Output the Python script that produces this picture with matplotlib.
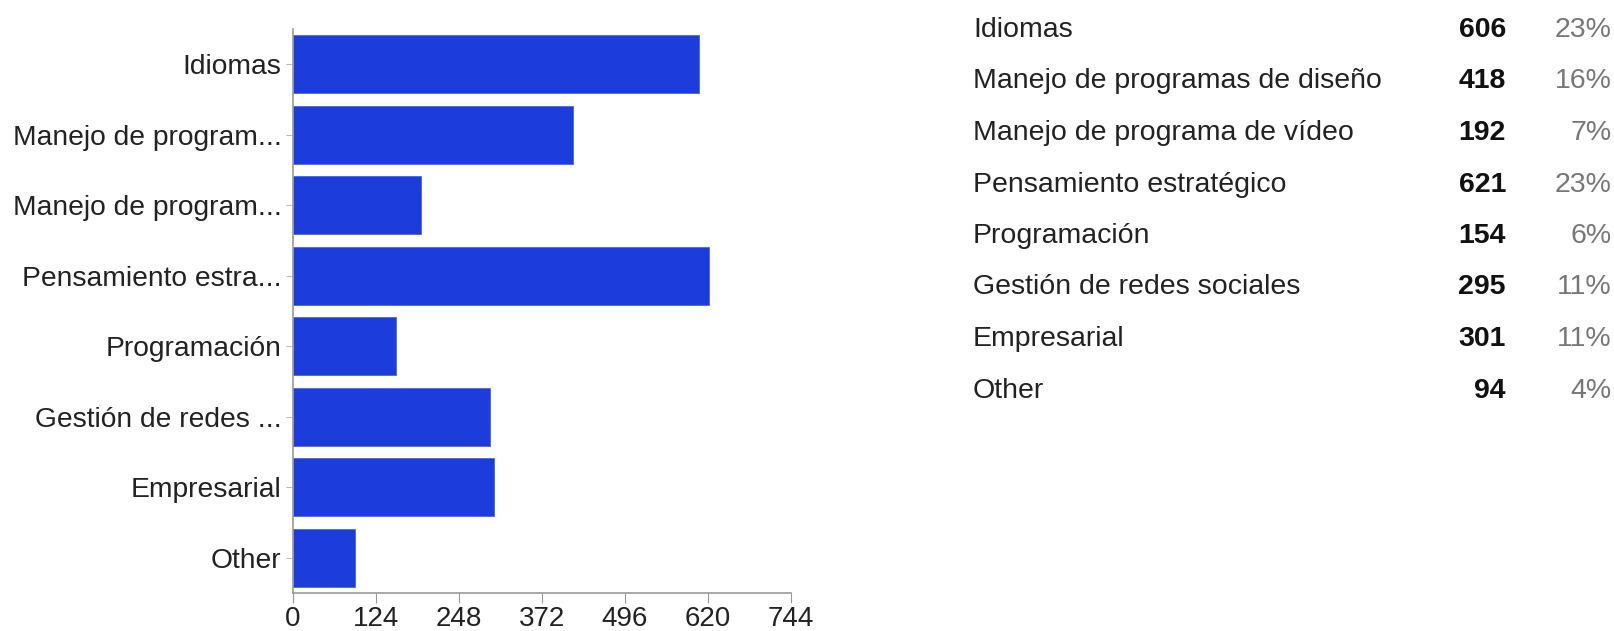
import matplotlib.pyplot as plt

# survey answers (bar chart on the left, summary table on the right)
short_labels = ['Idiomas', 'Manejo de program...', 'Manejo de program...',
                'Pensamiento estra...', 'Programación', 'Gestión de redes ...',
                'Empresarial', 'Other']
full_labels = ['Idiomas', 'Manejo de programas de diseño',
               'Manejo de programa de vídeo', 'Pensamiento estratégico',
               'Programación', 'Gestión de redes sociales', 'Empresarial', 'Other']
counts = [606, 418, 192, 621, 154, 295, 301, 94]
percents = ['23%', '16%', '7%', '23%', '6%', '11%', '11%', '4%']
x_ticks = [0, 124, 248, 372, 496, 620, 744]

plt.rcParams['font.family'] = ['Liberation Sans', 'DejaVu Sans']

W, H = 1615, 631
fig = plt.figure(figsize=(W / 100, H / 100), dpi=100)
#axes placed by pixel box of the reference
ax = fig.add_axes([292.5 / W, 1 - 593 / H, (791 - 292.5) / W, (593 - 29) / H])

ypos = range(len(counts))
ax.barh(ypos, counts, height=0.82, color='#1c3ddb', edgecolor='#4a66e3', linewidth=0.6)
ax.set_ylim(len(counts) - 0.5, -0.5)
ax.set_xlim(0, 744)
ax.set_yticks(list(ypos))
ax.set_yticklabels(short_labels, fontsize=20.3, color='#222222')
ax.set_xticks(x_ticks)
ax.set_xticklabels([str(t) for t in x_ticks], fontsize=20, color='#222222')
for side in ['top', 'right']:
    ax.spines[side].set_visible(False)
for side in ['left', 'bottom']:
    ax.spines[side].set_color('#999999')
    ax.spines[side].set_linewidth(1.2)
ax.tick_params(axis='y', length=5, color='#bbbbbb', pad=3)
ax.tick_params(axis='x', length=7, color='#999999', pad=2)

#summary table
row_top = 30
row_step = 51.5
for i in range(len(counts)):
    y = 1 - (row_top + i * row_step) / H
    fig.text(973 / W, y, full_labels[i], fontsize=20.5, color='#222222',
             ha='left', va='center')
    fig.text(1506 / W, y, str(counts[i]), fontsize=20.5, color='#111111',
             fontweight='bold', ha='right', va='center')
    fig.text(1612 / W, y, percents[i], fontsize=20.5, color='#777777',
             ha='right', va='center')

fig.savefig('out.png', dpi=100)
